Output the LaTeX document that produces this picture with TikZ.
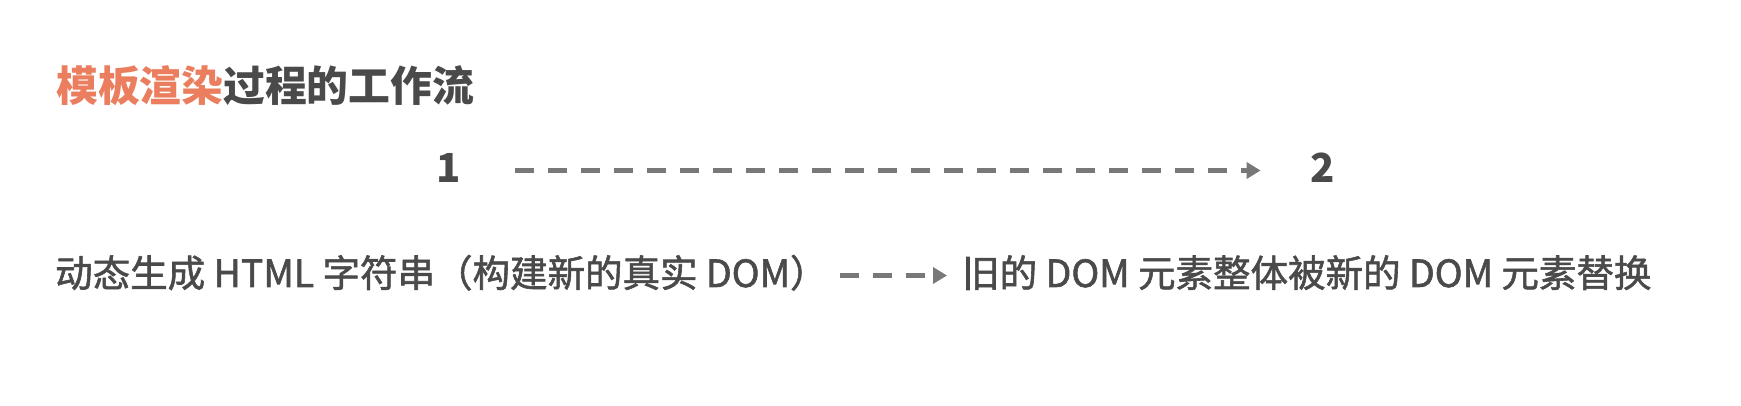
\documentclass[tikz,border=0pt]{standalone}
\usepackage{fontspec}
\setmainfont{Noto Sans CJK SC}
\newfontfamily\stepfont{Noto Sans CJK SC}[FakeBold=1.5]
\usetikzlibrary{arrows.meta}
\definecolor{titleorange}{RGB}{234,126,94}
\definecolor{textgray}{RGB}{74,74,74}
\definecolor{arrowgray}{RGB}{120,120,120}
\tikzset{
    flowarrow/.style={arrowgray,line width=4.5pt,dash pattern=on 19pt off 14pt,
        -{Triangle[length=14pt,width=16pt]}},
    steplabel/.style={textgray,inner sep=0,anchor=base,text height=29pt,text depth=4pt,
        font=\fontsize{40}{40}\selectfont\bfseries},
    steptext/.style={textgray,inner sep=0,anchor=base west,text height=30pt,text depth=7pt,
        font=\fontsize{37.5}{40}\stepfont},
}

\begin{document}
\begin{tikzpicture}[x=1pt,y=-1pt]
    \useasboundingbox [fill=white] (0,0) rectangle (1741,406);
    \node [textgray,inner sep=0,anchor=base west,font=\fontsize{41.8}{42}\selectfont\bfseries] (title)
        at (56,102) {\textcolor{titleorange}{模板渲染}过程的工作流};
    \node [steplabel] (n1) at (449,183) {1};
    \node [steplabel] (n2) at (1323,183) {2};
    \node [steptext] (html) at (55,287) {动态生成 HTML 字符串（构建新的真实 DOM）};
    \node [steptext] (swap) at (962,287) {旧的 DOM 元素整体被新的 DOM 元素替换};
    \draw [flowarrow,shorten <=54pt,shorten >=50pt] (n1.east) -- (n2.west);
    \draw [flowarrow,shorten <=12pt,shorten >=15pt] (html.east) -- (swap.west);
\end{tikzpicture}
\end{document}
